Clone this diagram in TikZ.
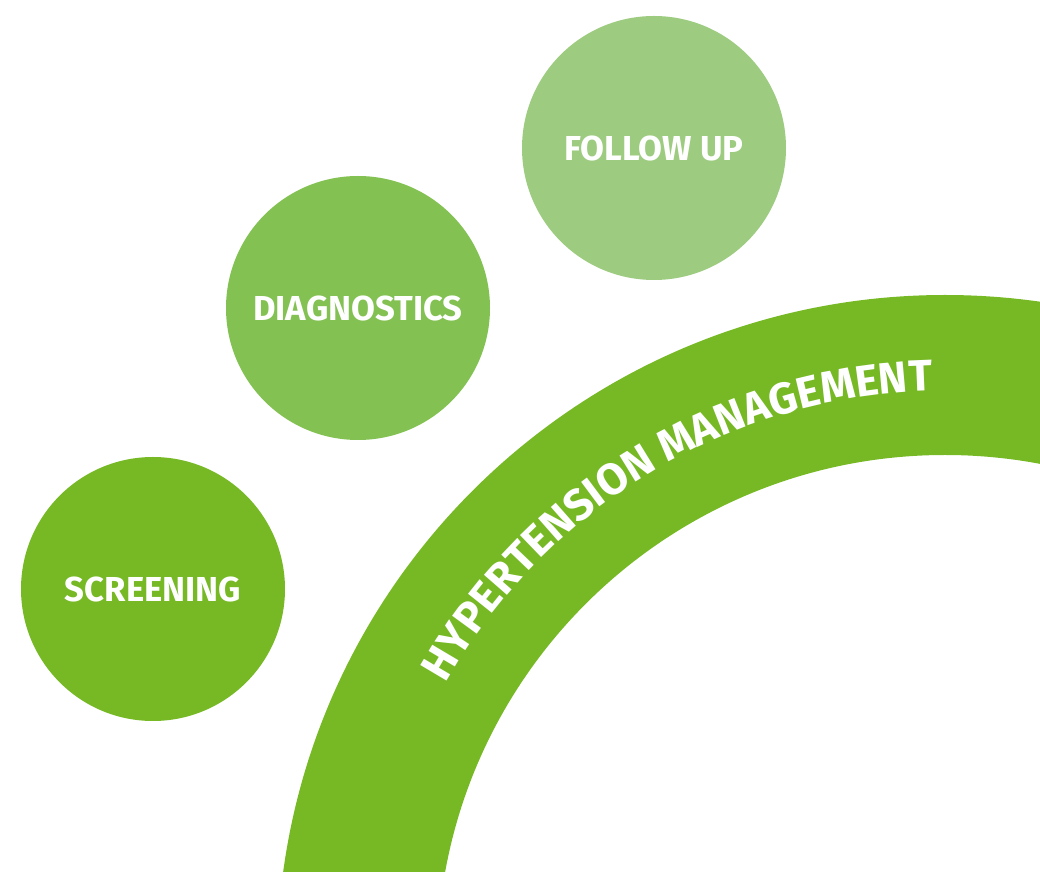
\documentclass[tikz,border=0pt]{standalone}
\usepackage{fontspec}
\setmainfont{Fira Sans}
\usetikzlibrary{decorations.text}
\definecolor{mgreen}{RGB}{118,185,37}
\definecolor{lgreen}{RGB}{131,193,82}
\definecolor{pgreen}{RGB}{157,203,128}
\tikzset{stage/.style = {circle, inner sep = 0, minimum size = 198pt, text = white,
    font = \fontsize{26}{30}\selectfont\bfseries}}

\begin{document}
\begin{tikzpicture}[x = 0.75pt, y = 0.75pt]
        \useasboundingbox (0, 0) rectangle (1040, 872);
        \coordinate (hub) at (945, -91);
        \begin{scope}
          \clip (0, 0) rectangle (1040, 872);
          \fill [mgreen, even odd rule] (hub) circle [radius = 668] (hub) circle [radius = 508];
        \end{scope}
        \path [decorate, decoration = {text along path, text align = center, text color = white,
            text = {|\fontsize{33}{33}\selectfont\bfseries|HYPERTENSION MANAGEMENT}}]
          (hub) ++(158.5:572) arc [start angle = 158.5, end angle = 83.5, radius = 572];
        \node [stage, fill = mgreen] (screening) at (153, 283) {SCREENING};
        \node [stage, fill = lgreen] (diagnostics) at (358, 564) {DIAGNOSTICS};
        \node [stage, fill = pgreen] (followup) at (654, 724) {FOLLOW UP};
      \end{tikzpicture}
\end{document}
